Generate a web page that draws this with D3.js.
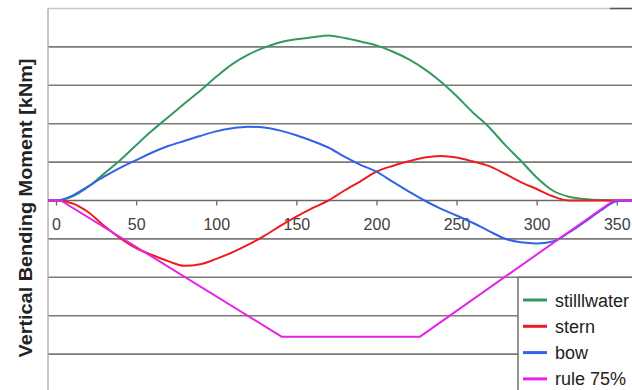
<!DOCTYPE html>
<html>
<head>
<meta charset="utf-8">
<script src="https://cdn.jsdelivr.net/npm/d3@7"></script>
<style>
  html, body { margin: 0; padding: 0; background: #fff; }
  svg { display: block; }
</style>
</head>
<body>
<svg id="chart" width="632" height="390"></svg>
<script>
// ---- data ----
const positions = [-5, 0, 10, 20, 30, 40, 50, 60, 70, 80, 90, 100, 110, 120, 130, 140, 150, 160, 170, 180,
                   190, 200, 210, 220, 230, 240, 250, 260, 270, 280, 290, 300, 310, 320, 330, 340, 350, 360];
const stillwater = [0, 0, 0.1, 0.35, 0.7, 1.05, 1.44, 1.82, 2.17, 2.52, 2.86, 3.22, 3.55, 3.8, 3.98, 4.12, 4.2, 4.25, 4.3, 4.23,
                    4.14, 4.04, 3.88, 3.68, 3.42, 3.1, 2.72, 2.3, 1.92, 1.46, 1.04, 0.6, 0.26, 0.1, 0.04, 0.01, 0, 0];
const stern = [0, 0, -0.07, -0.3, -0.66, -0.98, -1.24, -1.42, -1.58, -1.7, -1.66, -1.52, -1.35, -1.15, -0.92, -0.66, -0.42, -0.2, 0, 0.26,
               0.5, 0.75, 0.9, 1.02, 1.12, 1.16, 1.12, 1.02, 0.9, 0.7, 0.48, 0.3, 0.11, 0, 0, 0, 0, 0];
const bow = [0, 0, 0.12, 0.37, 0.62, 0.85, 1.05, 1.25, 1.42, 1.55, 1.68, 1.8, 1.88, 1.92, 1.9, 1.82, 1.7, 1.55, 1.38, 1.14,
             0.93, 0.75, 0.49, 0.24, 0.0, -0.21, -0.39, -0.58, -0.79, -0.99, -1.09, -1.12, -1.07, -0.84, -0.56, -0.26, -0.02, 0];
const rulePositions = [-5, 3, 141, 227, 348, 360];
const rule75 = [0, 0, -3.55, -3.55, 0, 0];
const xTicks = [0, 50, 100, 150, 200, 250, 300, 350];
const gridValues = [-4, -3, -2, -1, 1, 2, 3, 4];
const seriesNames = ["stilllwater", "stern", "bow", "rule 75%"];
const seriesColors = ["#33995c", "#ee1d1d", "#3163ea", "#e523e5"];
const yTitle = "Vertical Bending Moment [kNm]";

// ---- layout ----
const svg = d3.select("#chart");
const x = d3.scaleLinear().domain([-5, 360]).range([48, 632.8]);
const y = d3.scaleLinear().domain([-5, 5]).range([392.5, 8.5]);
const font = "Liberation Sans, Arial, sans-serif";

// top border (light) and small dark segment top-right
svg.append("line").attr("x1", 48).attr("x2", 632).attr("y1", y(5)).attr("y2", y(5))
  .attr("stroke", "#c8c8c8").attr("stroke-width", 1.5);
svg.append("line").attr("x1", 610).attr("x2", 632).attr("y1", y(5)).attr("y2", y(5))
  .attr("stroke", "#555").attr("stroke-width", 1.5);

// gridlines
svg.append("g").selectAll("line").data(gridValues).join("line")
  .attr("x1", 48).attr("x2", 632)
  .attr("y1", d => y(d)).attr("y2", d => y(d))
  .attr("stroke", "#7a7a7a").attr("stroke-width", 1.6);

// left axis line
svg.append("line").attr("x1", 48).attr("x2", 48).attr("y1", y(5)).attr("y2", 390)
  .attr("stroke", "#b0b0b0").attr("stroke-width", 1.5);

// x axis at zero
const xAxis = d3.axisBottom(x).tickValues(xTicks).tickSize(5).tickPadding(13).tickFormat(d3.format("d"));
const gx = svg.append("g").attr("transform", `translate(0,${y(0)})`).call(xAxis);
gx.select(".domain").attr("d", `M48,0H632`).attr("stroke", "#6a6a6a").attr("stroke-width", 1.6);
gx.selectAll(".tick line").attr("stroke", "#6a6a6a").attr("stroke-width", 1.3);
gx.selectAll(".tick text").attr("fill", "#404040")
  .style("font-family", font).style("font-size", "16px");

// lines
const smooth = d3.line().x(d => x(d[0])).y(d => y(d[1])).curve(d3.curveMonotoneX);
const straight = d3.line().x(d => x(d[0])).y(d => y(d[1]));
const seriesData = [
  positions.map((p, i) => [p, stillwater[i]]),
  positions.map((p, i) => [p, stern[i]]),
  positions.map((p, i) => [p, bow[i]]),
  rulePositions.map((p, i) => [p, rule75[i]])
];
svg.append("g").selectAll("path").data(seriesData).join("path")
  .attr("d", (d, i) => i === 3 ? straight(d) : smooth(d))
  .attr("fill", "none")
  .attr("stroke", (d, i) => seriesColors[i])
  .attr("stroke-width", 2)
  .attr("stroke-linejoin", "round");

// legend
const lgX = 518, lgY = y(-2);
svg.append("rect").attr("x", lgX).attr("y", lgY).attr("width", 140).attr("height", 140)
  .attr("fill", "#fff").attr("stroke", "#707070").attr("stroke-width", 1.5);
const lg = svg.append("g").selectAll("g").data(seriesNames).join("g")
  .attr("transform", (d, i) => `translate(${lgX}, ${300 + i * 26.3})`);
lg.append("line").attr("x1", 5).attr("x2", 29).attr("y1", 0).attr("y2", 0)
  .attr("stroke", (d, i) => seriesColors[i]).attr("stroke-width", 3);
lg.append("text").attr("x", 37).attr("y", 6.5).text(d => d)
  .attr("fill", "#222")
  .style("font-family", font).style("font-size", "18px");

// y title
svg.append("text")
  .attr("transform", `translate(32, 208) rotate(-90)`)
  .attr("text-anchor", "middle")
  .attr("fill", "#222")
  .attr("textLength", 299).attr("lengthAdjust", "spacingAndGlyphs")
  .style("font-family", font)
  .style("font-weight", "bold").style("font-size", "19px")
  .text(yTitle);
</script>
</body>
</html>
